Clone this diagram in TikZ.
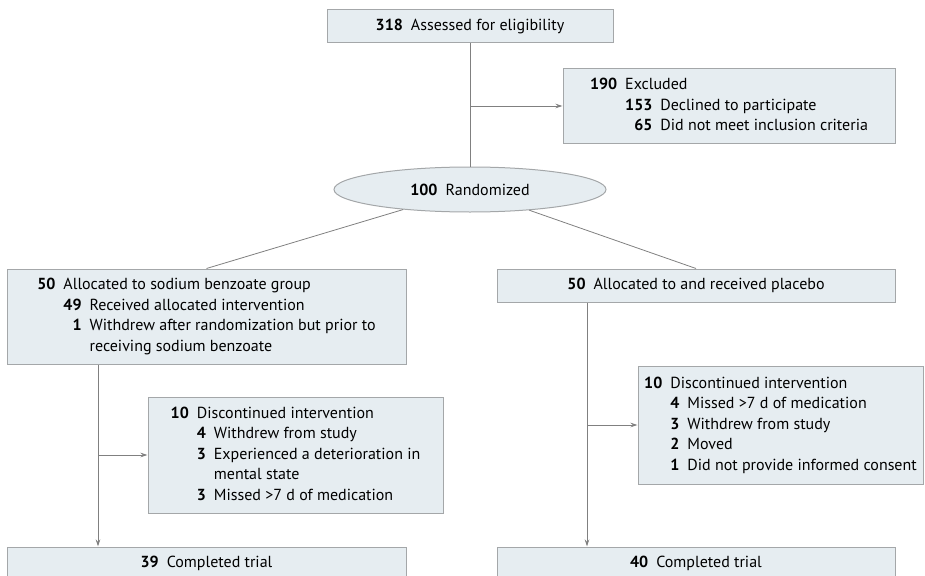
\documentclass[tikz,border=0pt]{standalone}
\usepackage{fontspec}
\setmainfont{PT Sans}
\usetikzlibrary{shapes.geometric,arrows.meta,positioning}
\definecolor{boxfill}{HTML}{E6EDF1}
\definecolor{boxline}{HTML}{A4A7A9}
\definecolor{linkline}{HTML}{808080}
\newcommand{\flowfont}{\fontsize{16}{20.5}\selectfont}
\newcommand{\flowitems}[1]{\begin{tabular}{@{}r@{\hspace{8pt}}r@{\hspace{8pt}}l@{}}#1\end{tabular}}
\begin{document}
\begin{tikzpicture}[x=1pt,y=-1pt,
    flowbox/.style={draw=boxline, fill=boxfill, line width=1pt, inner sep=0pt,
      minimum height=33pt, font=\flowfont},
    link/.style={draw=linkline, line width=0.8pt},
    arrowlink/.style={link, -{Stealth[length=7pt,width=4.5pt]}}]
    \useasboundingbox (0,0) rectangle (925,575);
    \node[flowbox, minimum width=286pt] (assessed) at (470,26.5)
      {\textbf{318}\hspace{8pt}Assessed for eligibility};
    \node[flowbox, minimum width=332pt, minimum height=74pt] (excluded) at (729,106)
      {\flowitems{\textbf{190} & \multicolumn{2}{@{}l@{}}{Excluded}\\
        & \textbf{153} & Declined to participate\\
        & \textbf{65} & Did not meet inclusion criteria}};
    \node[flowbox, ellipse, minimum width=272pt, minimum height=45pt] (randomized) at (470,189.5)
      {\textbf{100}\hspace{8pt}Randomized};
    \node[flowbox, minimum width=399pt, minimum height=95pt] (benzoate) at (206.5,316.5)
      {\flowitems{\textbf{50} & \multicolumn{2}{@{}l@{}}{Allocated to sodium benzoate group}\\
        & \textbf{49} & Received allocated intervention\\
        & \textbf{1} & Withdrew after randomization but prior to\\
        & & receiving sodium benzoate}};
    \node[flowbox, minimum width=398pt] (placebo) at (696,285.5)
      {\textbf{50}\hspace{8pt}Allocated to and received placebo};
    \node[flowbox, minimum width=295pt, minimum height=116pt] (benzoatestop) at (295.5,455)
      {\flowitems{\textbf{10} & \multicolumn{2}{@{}l@{}}{Discontinued intervention}\\
        & \textbf{4} & Withdrew from study\\
        & \textbf{3} & Experienced a deterioration in\\
        & & mental state\\
        & \textbf{3} & Missed >7 d of medication}};
    \node[flowbox, minimum width=285pt, minimum height=118pt] (placebostop) at (780.5,425)
      {\flowitems{\textbf{10} & \multicolumn{2}{@{}l@{}}{Discontinued intervention}\\
        & \textbf{4} & Missed >7 d of medication\\
        & \textbf{3} & Withdrew from study\\
        & \textbf{2} & Moved\\
        & \textbf{1} & Did not provide informed consent}};
    \node[flowbox, minimum width=399pt] (benzoatedone) at (206.5,563.5)
      {\textbf{39}\hspace{8pt}Completed trial};
    \node[flowbox, minimum width=398pt] (placebodone) at (696,563.5)
      {\textbf{40}\hspace{8pt}Completed trial};
    \coordinate (leftrail) at (98,0);
    \coordinate (rightrail) at (587,0);
    \draw[link] (assessed.south) -- (randomized.north);
    \draw[arrowlink] (excluded.west -| assessed.south) -- (excluded.west);
    \draw[link] (randomized) -- (benzoate.north);
    \draw[link] (randomized) -- (placebo.north);
    \draw[arrowlink] (benzoate.south -| leftrail) -- (benzoatedone.north -| leftrail);
    \draw[arrowlink] (benzoatestop.west -| leftrail) -- (benzoatestop.west);
    \draw[arrowlink] (placebo.south -| rightrail) -- (placebodone.north -| rightrail);
    \draw[arrowlink] (placebostop.west -| rightrail) -- (placebostop.west);
\end{tikzpicture}
\end{document}
